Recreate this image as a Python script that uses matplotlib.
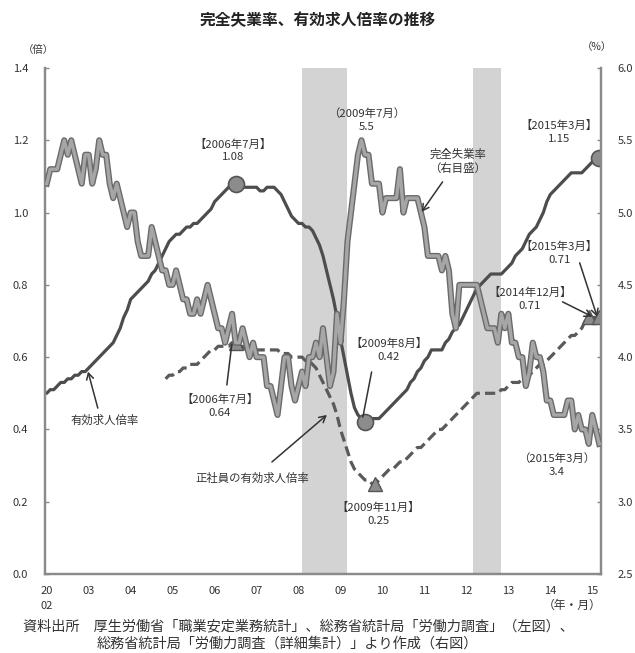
import numpy as np
import matplotlib
matplotlib.use("Agg")
import matplotlib.pyplot as plt
import matplotlib.patheffects as pe

plt.rcParams['font.family'] = ['Noto Sans CJK JP', 'DejaVu Sans']

# ---- data: monthly, Jan 2002 .. Mar 2015 ----
years = list(range(2002, 2016))

# 完全失業率 (%), right axis
unemp = [
    5.2, 5.3, 5.3, 5.3, 5.4, 5.5, 5.4, 5.5, 5.4, 5.3, 5.2, 5.4,   # 2002
    5.4, 5.2, 5.3, 5.5, 5.4, 5.4, 5.2, 5.1, 5.2, 5.1, 5.0, 4.9,   # 2003
    5.0, 5.0, 4.8, 4.7, 4.7, 4.7, 4.9, 4.8, 4.7, 4.6, 4.6, 4.5,   # 2004
    4.5, 4.6, 4.5, 4.4, 4.4, 4.3, 4.3, 4.4, 4.3, 4.4, 4.5, 4.4,   # 2005
    4.3, 4.2, 4.2, 4.1, 4.2, 4.3, 4.1, 4.1, 4.2, 4.1, 4.0, 4.1,   # 2006
    4.0, 4.0, 4.0, 3.8, 3.8, 3.7, 3.6, 3.8, 4.0, 4.0, 3.8, 3.7,   # 2007
    3.8, 3.9, 3.8, 4.0, 4.0, 4.1, 4.0, 4.2, 4.0, 3.8, 3.9, 4.3,   # 2008
    4.1, 4.4, 4.8, 5.0, 5.2, 5.4, 5.5, 5.4, 5.4, 5.2, 5.2, 5.2,   # 2009
    5.0, 5.1, 5.1, 5.1, 5.1, 5.3, 5.0, 5.1, 5.1, 5.1, 5.1, 5.0,   # 2010
    4.9, 4.7, 4.7, 4.7, 4.7, 4.6, 4.7, 4.6, 4.3, 4.2, 4.5, 4.5,   # 2011
    4.5, 4.5, 4.5, 4.5, 4.4, 4.3, 4.2, 4.2, 4.2, 4.1, 4.3, 4.2,   # 2012
    4.3, 4.1, 4.1, 4.0, 4.0, 3.8, 3.9, 4.1, 4.0, 4.0, 3.9, 3.7,   # 2013
    3.7, 3.6, 3.6, 3.6, 3.6, 3.7, 3.7, 3.5, 3.6, 3.5, 3.5, 3.4,   # 2014
    3.6, 3.5, 3.4,                                                # 2015
]

# 有効求人倍率 (倍), left axis
ratio = [
    0.50, 0.51, 0.51, 0.52, 0.53, 0.53, 0.54, 0.54, 0.55, 0.55, 0.56, 0.56,
    0.57, 0.58, 0.59, 0.60, 0.61, 0.62, 0.63, 0.64, 0.66, 0.68, 0.71, 0.73,
    0.76, 0.77, 0.78, 0.79, 0.80, 0.81, 0.83, 0.84, 0.86, 0.88, 0.90, 0.92,
    0.93, 0.94, 0.94, 0.95, 0.96, 0.96, 0.97, 0.97, 0.98, 0.99, 1.00, 1.01,
    1.03, 1.04, 1.05, 1.06, 1.07, 1.08, 1.08, 1.08, 1.07, 1.07, 1.07, 1.07,
    1.07, 1.06, 1.06, 1.07, 1.07, 1.07, 1.06, 1.05, 1.03, 1.01, 0.99, 0.98,
    0.97, 0.97, 0.96, 0.96, 0.95, 0.93, 0.91, 0.88, 0.84, 0.80, 0.76, 0.71,
    0.65, 0.60, 0.55, 0.50, 0.46, 0.44, 0.43, 0.42, 0.43, 0.43, 0.43, 0.43,
    0.44, 0.45, 0.46, 0.47, 0.48, 0.49, 0.50, 0.51, 0.53, 0.54, 0.56, 0.57,
    0.59, 0.60, 0.62, 0.62, 0.62, 0.62, 0.64, 0.65, 0.67, 0.68, 0.69, 0.71,
    0.73, 0.75, 0.77, 0.79, 0.80, 0.81, 0.82, 0.83, 0.83, 0.83, 0.83, 0.84,
    0.85, 0.86, 0.88, 0.89, 0.90, 0.92, 0.94, 0.95, 0.96, 0.98, 1.00, 1.03,
    1.05, 1.06, 1.07, 1.08, 1.09, 1.10, 1.11, 1.11, 1.11, 1.11, 1.12, 1.13,
    1.14, 1.15, 1.15,
]

# 正社員の有効求人倍率 (倍), left axis, available from Nov 2004
regular_start = 34
regular = [
    0.54, 0.55,
    0.55, 0.56, 0.56, 0.57, 0.57, 0.58, 0.58, 0.58, 0.59, 0.60, 0.61, 0.62,
    0.62, 0.63, 0.63, 0.63, 0.63, 0.64, 0.64, 0.63, 0.63, 0.62, 0.62, 0.62,
    0.62, 0.62, 0.62, 0.62, 0.62, 0.62, 0.62, 0.61, 0.61, 0.61, 0.60, 0.60,
    0.60, 0.60, 0.59, 0.59, 0.58, 0.57, 0.55, 0.53, 0.51, 0.49, 0.47, 0.44,
    0.40, 0.37, 0.34, 0.31, 0.29, 0.28, 0.27, 0.26, 0.26, 0.25, 0.25, 0.26,
    0.27, 0.28, 0.29, 0.29, 0.30, 0.31, 0.31, 0.32, 0.33, 0.34, 0.35, 0.35,
    0.36, 0.37, 0.38, 0.39, 0.40, 0.40, 0.41, 0.42, 0.43, 0.44, 0.45, 0.46,
    0.47, 0.48, 0.49, 0.50, 0.50, 0.50, 0.50, 0.50, 0.50, 0.50, 0.51, 0.51,
    0.52, 0.53, 0.53, 0.53, 0.54, 0.54, 0.55, 0.56, 0.57, 0.58, 0.58, 0.59,
    0.60, 0.61, 0.62, 0.63, 0.64, 0.65, 0.66, 0.66, 0.67, 0.68, 0.70, 0.71,
    0.71, 0.71, 0.71,
]

# business-cycle downturns (peak month, trough month) as (year, month)
recessions = [((2008, 2), (2009, 3)), ((2012, 3), (2012, 11))]

x_labels = ["20\n02", "03", "04", "05", "06", "07", "08", "09", "10",
            "11", "12", "13", "14", "15"]


def midx(y, m):
    return (y - 2002) * 12 + (m - 1)


n = len(ratio)
months = np.arange(n)
reg = np.full(n, np.nan)
reg[regular_start:regular_start + len(regular)] = regular
ratio = np.array(ratio)
unemp = np.array(unemp)

TXT = '#333333'

fig = plt.figure(figsize=(6.35, 6.53), dpi=100)
ax = fig.add_axes([45 / 635, 79 / 653, 556 / 635, 506 / 653])
ax2 = ax.twinx()

ax.set_xlim(-0.5, n - 0.5)
ax.set_ylim(0, 1.4)
ax2.set_ylim(2.5, 6.0)

for (p, t) in recessions:
    ax.axvspan(midx(*p), midx(*t), color='#d3d3d3', lw=0, zorder=0)

# lines
ax.plot(months, ratio, color='#4d4d4d', lw=2.3, zorder=3, solid_capstyle='round')
ax.plot(months, reg, color='#5a5a5a', lw=2.3, zorder=3, dashes=(3.2, 1.6))
ax2.plot(months, unemp, color='#a6a6a6', lw=2.4, zorder=3,
         path_effects=[pe.Stroke(linewidth=4.4, foreground='#6a6a6a'), pe.Normal()])

# highlighted points
for (y, m) in [(2006, 7), (2009, 8), (2015, 3)]:
    i = midx(y, m)
    ax.plot(i, ratio[i], 'o', ms=11.5, color='#8c8c8c', mec='#555555', mew=1.2, zorder=4)
for (y, m) in [(2006, 7), (2009, 11), (2014, 12), (2015, 3)]:
    i = midx(y, m)
    ax.plot(i, reg[i], '^', ms=10, color='#8c8c8c', mec='#555555', mew=1.0, zorder=4)

# axes styling
for a in (ax, ax2):
    a.spines['top'].set_visible(False)
    for s in ('left', 'right', 'bottom'):
        a.spines[s].set_color('#8a8a8a')
        a.spines[s].set_linewidth(1.6)

ax.set_yticks(np.arange(0, 1.41, 0.2))
ax.set_yticklabels([f"{v:.1f}" for v in np.arange(0, 1.41, 0.2)])
ax2.set_yticks(np.arange(2.5, 6.01, 0.5))
ax2.set_yticklabels([f"{v:.1f}" for v in np.arange(2.5, 6.01, 0.5)])
ax.tick_params(axis='y', direction='in', length=3, width=1, color='#8a8a8a',
               labelsize=8, labelcolor=TXT, pad=12)
ax2.tick_params(axis='y', direction='in', length=3, width=1, color='#8a8a8a',
                labelsize=8, labelcolor=TXT, pad=12)
ax.set_xticks(months[::12])
ax.set_xticklabels(x_labels, linespacing=1.6)
ax.tick_params(axis='x', length=0, labelsize=8, labelcolor=TXT, pad=9)
for lab in ax.get_xticklabels():
    lab.set_verticalalignment('top')

fig.text(38 / 635, 1 - 50 / 653, "（倍）", fontsize=7.5, color=TXT, ha='center', va='center')
fig.text(597 / 635, 1 - 47 / 653, "（%）", fontsize=7.5, color=TXT, ha='center', va='center')
fig.text(572 / 635, 1 - 605 / 653, "（年・月）", fontsize=8.5, color=TXT, ha='center', va='center')

fig.text(318 / 635, 1 - 20 / 653, "完全失業率、有効求人倍率の推移", fontsize=11.3,
         fontweight='bold', color='#222222', ha='center', va='center')

fig.text(23 / 635, 1 - 626 / 653,
         "資料出所　厚生労働省「職業安定業務統計」、総務省統計局「労働力調査」（左図）、",
         fontsize=10.2, color=TXT, ha='left', va='center')
fig.text(97 / 635, 1 - 644 / 653,
         "総務省統計局「労働力調査（詳細集計）」より作成（右図）",
         fontsize=10.2, color=TXT, ha='left', va='center')

# annotations (positions in left-axis coordinates)
T = ax.transData
afs = 8.2
arrow = dict(arrowstyle='->,head_length=0.45,head_width=0.25', color='#333333',
             lw=1.1, shrinkA=0, shrinkB=0)
plain = dict(arrowstyle='-', color='#333333', lw=1.1, shrinkA=0, shrinkB=0)


def label(x, y, s):
    ax2.text(x, y, s, transform=T, fontsize=afs, color=TXT, ha='center',
             va='center', linespacing=1.35, zorder=6)


label(53.2, 1.172, "【2006年7月】\n1.08")
label(91.5, 1.256, "（2009年7月）\n5.5")
label(146.6, 1.223, "【2015年3月】\n1.15")
label(117.5, 1.143, "完全失業率\n（右目盛）")
label(146.6, 0.888, "【2015年3月】\n0.71")
label(138.1, 0.761, "【2014年12月】\n0.71")
label(49.5, 0.465, "【2006年7月】\n0.64")
label(97.8, 0.620, "【2009年8月】\n0.42")
label(94.9, 0.166, "【2009年11月】\n0.25")
label(145.8, 0.302, "（2015年3月）\n3.4")
label(16.6, 0.426, "有効求人倍率")
label(58.9, 0.266, "正社員の有効求人倍率")

ax2.annotate("", xy=(107.2, 1.002), xytext=(113.2, 1.085), xycoords=T, textcoords=T, arrowprops=arrow)
ax2.annotate("", xy=(157.4, 0.712), xytext=(152.4, 0.861), xycoords=T, textcoords=T, arrowprops=arrow)
ax2.annotate("", xy=(156.0, 0.712), xytext=(147.5, 0.753), xycoords=T, textcoords=T, arrowprops=arrow)
ax2.annotate("", xy=(11.8, 0.560), xytext=(14.6, 0.459), xycoords=T, textcoords=T, arrowprops=arrow)
ax2.annotate("", xy=(80.1, 0.440), xytext=(64.4, 0.310), xycoords=T, textcoords=T, arrowprops=arrow)
ax2.annotate("", xy=(52.9, 0.634), xytext=(51.5, 0.523), xycoords=T, textcoords=T, arrowprops=plain)
ax2.annotate("", xy=(90.4, 0.434), xytext=(92.9, 0.559), xycoords=T, textcoords=T, arrowprops=plain)

fig.savefig("out.png", dpi=100)
